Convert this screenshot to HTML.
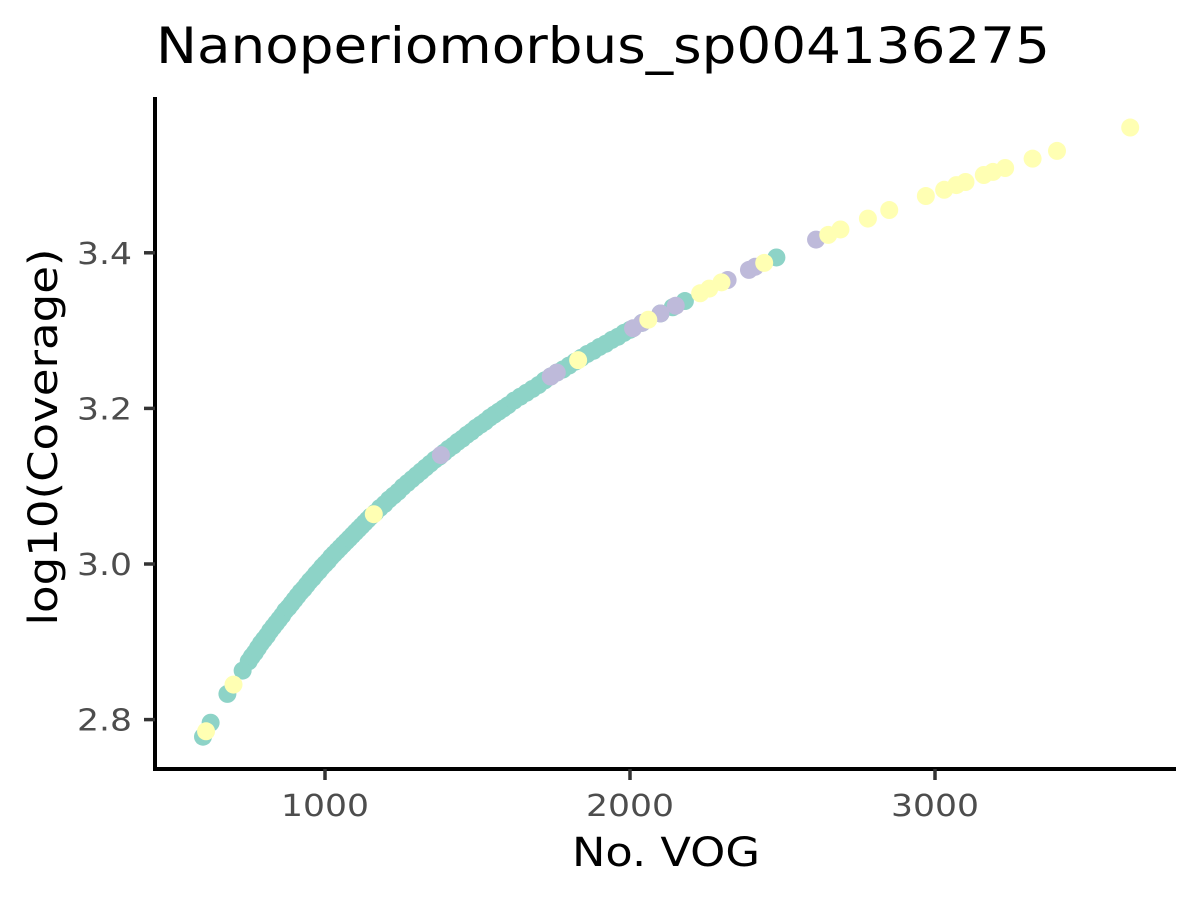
<!DOCTYPE html>
<html><head><meta charset="utf-8"><style>
html,body{margin:0;padding:0;background:#fff;}
svg{display:block;font-family:"DejaVu Sans","Liberation Sans",sans-serif;}
</style></head><body>
<svg id="chart" width="1200" height="900" viewBox="0 0 1200 900">
<text x="156" y="63" font-size="50" textLength="894" lengthAdjust="spacingAndGlyphs" fill="#000">Nanoperiomorbus_sp004136275</text>
<g id="points"></g>
<line x1="155" y1="97" x2="155" y2="771" stroke="#000" stroke-width="4"/>
<line x1="153" y1="769" x2="1176" y2="769" stroke="#000" stroke-width="4"/>
<g id="xticks"></g>
<g id="yticks"></g>
<text x="666" y="866" font-size="40" textLength="188" lengthAdjust="spacingAndGlyphs" text-anchor="middle" fill="#000">No. VOG</text>
<text transform="translate(57,437) rotate(-90)" font-size="40" textLength="377" lengthAdjust="spacingAndGlyphs" text-anchor="middle" fill="#000">log10(Coverage)</text>
</svg>
<script>
const xTicks = [1000, 2000, 3000];
const yTicks = [2.8, 3.0, 3.2, 3.4];
const yTickLabels = ["2.8", "3.0", "3.2", "3.4"];
const tealX = [600,625,680,730,750,770,790,810,830,850,870,890,910,930,950,970,990,1010,1030,1050,1070,1090,1110,1130,1150,1180,1210,1240,1270,1300,1330,1360,1390,1420,1450,1480,1510,1540,1570,1600,1640,1680,1720,1760,1800,1840,1880,1920,1960,2000,2040,2100,2140,2180,2480,
760,780,800,820,840,860,880,900,920,940,960,980,1000,1020,1040,1060,1080,1100,1120,1140,1165,1195,1225,1255,1285,1315,1345,1375,1405,1435,1465,1495,1525,1555,1585,1620,1660,1700,1740,1780,1820,1860,1900,1940,1980];
const tealY = [2.778,2.796,2.833,2.863,2.875,2.886,2.898,2.908,2.919,2.929,2.940,2.949,2.959,2.968,2.978,2.987,2.996,3.004,3.013,3.021,3.029,3.037,3.045,3.053,3.061,3.072,3.083,3.093,3.104,3.114,3.124,3.134,3.143,3.152,3.161,3.170,3.179,3.188,3.196,3.204,3.215,3.225,3.236,3.246,3.255,3.265,3.274,3.283,3.292,3.301,3.310,3.322,3.330,3.338,3.394,
2.881,2.892,2.903,2.914,2.924,2.934,2.944,2.954,2.964,2.973,2.982,2.991,3.000,3.009,3.017,3.025,3.033,3.041,3.049,3.057,3.066,3.077,3.088,3.099,3.109,3.119,3.129,3.138,3.148,3.157,3.166,3.175,3.183,3.192,3.200,3.210,3.220,3.230,3.241,3.250,3.260,3.270,3.279,3.288,3.297];
const purpleX = [1380,1740,1760,2010,2040,2100,2150,2320,2390,2410,2610];
const purpleY = [3.140,3.241,3.246,3.303,3.310,3.322,3.332,3.365,3.378,3.382,3.417];
const yellowX = [610,700,1160,1830,2060,2230,2260,2300,2440,2650,2690,2780,2850,2970,3030,3070,3100,3160,3190,3230,3320,3400,3640];
const yellowY = [2.785,2.845,3.064,3.262,3.314,3.348,3.354,3.362,3.387,3.423,3.430,3.444,3.455,3.473,3.481,3.487,3.491,3.500,3.504,3.509,3.521,3.531,3.561];

const NS = "http://www.w3.org/2000/svg";
function sx(v){ return 325 + (v - 1000) * 0.305; }
function sy(v){ return 564 - (v - 3.0) * 778; }

const xg = document.getElementById('xticks');
xTicks.forEach(function(t){
  const l = document.createElementNS(NS,'line');
  l.setAttribute('x1', sx(t)); l.setAttribute('x2', sx(t));
  l.setAttribute('y1', 769); l.setAttribute('y2', 780);
  l.setAttribute('stroke', '#333'); l.setAttribute('stroke-width', '3.5');
  
  
  xg.appendChild(l);
  const tx = document.createElementNS(NS,'text');
  tx.setAttribute('x', sx(t)); tx.setAttribute('y', 816);
  tx.setAttribute('font-size', '30'); tx.setAttribute('fill', '#4d4d4d');
  tx.setAttribute('text-anchor', 'middle');
  tx.setAttribute('textLength', '88');
  tx.setAttribute('lengthAdjust', 'spacingAndGlyphs');
  
  
  tx.textContent = String(t);
  xg.appendChild(tx);
});
const yg = document.getElementById('yticks');
yTicks.forEach(function(t, i){
  const l = document.createElementNS(NS,'line');
  l.setAttribute('x1', 144); l.setAttribute('x2', 155);
  l.setAttribute('y1', sy(t)); l.setAttribute('y2', sy(t));
  l.setAttribute('stroke', '#333'); l.setAttribute('stroke-width', '3.5');
  
  
  yg.appendChild(l);
  const tx = document.createElementNS(NS,'text');
  tx.setAttribute('x', 132); tx.setAttribute('y', sy(t) + 11);
  tx.setAttribute('font-size', '30'); tx.setAttribute('fill', '#4d4d4d');
  tx.setAttribute('text-anchor', 'end');
  tx.setAttribute('textLength', '55');
  tx.setAttribute('lengthAdjust', 'spacingAndGlyphs');
  
  
  tx.textContent = yTickLabels[i];
  yg.appendChild(tx);
});
const pg = document.getElementById('points');
function drawSeries(xs, ys, color, name){
  xs.forEach(function(x, i){
    const c = document.createElementNS(NS,'circle');
    c.setAttribute('cx', sx(x)); c.setAttribute('cy', sy(ys[i]));
    c.setAttribute('r', 9); c.setAttribute('fill', color);
    
    
    pg.appendChild(c);
  });
}
drawSeries(tealX, tealY, '#8dd3c7', 'point-teal');
drawSeries(purpleX, purpleY, '#bebada', 'point-purple');
drawSeries(yellowX, yellowY, '#ffffb3', 'point-yellow');
</script>
</body></html>
